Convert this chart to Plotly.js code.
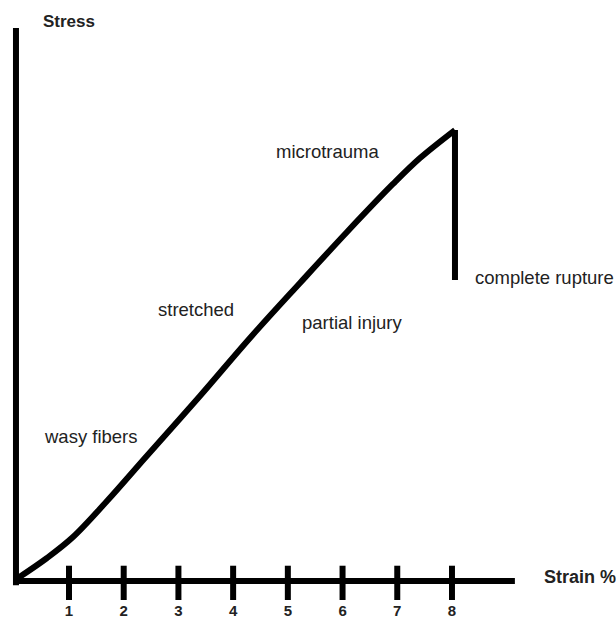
<!DOCTYPE html>
<html>
<head>
<meta charset="utf-8">
<script src="https://cdn.plot.ly/plotly-3.0.1.min.js"></script>
<style>html,body{margin:0;padding:0;background:#fff;}#chart{width:616px;height:619px;}</style>
</head>
<body>
<div id="chart"></div>
<script>
// Stress-strain curve (strain %, stress in arbitrary units)
var strain = [0.068, 0.598, 1.073, 1.695, 2.389, 3.394, 4.308, 5.222, 6.081, 6.922, 7.416, 8.055];
var stress = [0, 3.64, 7.45, 14.0, 21.82, 33.09, 43.64, 53.64, 62.91, 71.64, 76.36, 81.45];
// rupture drop
var ruptureStrain = [8.055, 8.055];
var ruptureStress = [81.45, 54.2];
// axis tick labels
var tickValues = [1, 2, 3, 4, 5, 6, 7, 8];
var tickLabels = ['1', '2', '3', '4', '5', '6', '7', '8'];
// region labels
var regionText = ['wasy fibers', 'stretched', 'partial injury', 'microtrauma', 'complete rupture'];
var regionX = [1.40, 3.32, 6.17, 5.73, 9.70];
var regionY = [25.8, 48.9, 46.4, 77.6, 54.7];

var ink = '#000';
var textCol = '#222';
var fam = 'Arial, Liberation Sans, sans-serif';

var traces = [
  // y axis line
  {x: [0.031, 0.031], y: [100, -1.3], mode: 'lines', line: {color: ink, width: 6}, hoverinfo: 'skip'},
  // x axis line
  {x: [-0.02, 9.15], y: [-0.55, -0.55], mode: 'lines', line: {color: ink, width: 6}, hoverinfo: 'skip'},
  // tick marks
  {x: tickValues, y: tickValues.map(function(){return -0.95;}), mode: 'markers',
   marker: {symbol: 'line-ns', size: 25, line: {color: ink, width: 6}}, hoverinfo: 'skip'},
  // curve
  {x: strain, y: stress, mode: 'lines', line: {color: ink, width: 6, shape: 'spline', smoothing: 1}, hoverinfo: 'skip'},
  // rupture
  {x: ruptureStrain, y: ruptureStress, mode: 'lines', line: {color: ink, width: 6}, hoverinfo: 'skip'}
];

var annotations = regionText.map(function(t, i) {
  return {x: regionX[i], y: regionY[i], text: t, showarrow: false, xanchor: 'center', yanchor: 'middle',
          font: {family: fam, size: 18.5, color: textCol}};
});
annotations.push({x: 1.00, y: 101.1, text: '<b>Stress</b>', showarrow: false, xanchor: 'center', yanchor: 'middle',
  font: {family: fam, size: 17, color: textCol}});
annotations.push({x: 10.34, y: 0.18, text: '<b>Strain %</b>', showarrow: false, xanchor: 'center', yanchor: 'middle',
  font: {family: fam, size: 18, color: textCol}});

var layout = {
  width: 616, height: 619,
  margin: {l: 0, r: 0, t: 0, b: 19, pad: 0},
  paper_bgcolor: '#fff', plot_bgcolor: '#fff',
  showlegend: false,
  xaxis: {range: [-0.261, 10.998], showgrid: false, zeroline: false, showline: false, ticks: '',
          tickmode: 'array', tickvals: tickValues, ticktext: tickLabels,
          tickfont: {family: fam, size: 15, color: textCol, weight: 'bold'}},
  yaxis: {range: [-4.0, 105.09], visible: false, showgrid: false, zeroline: false},
  annotations: annotations
};

Plotly.newPlot('chart', traces, layout, {staticPlot: true, displayModeBar: false});
</script>
</body>
</html>
